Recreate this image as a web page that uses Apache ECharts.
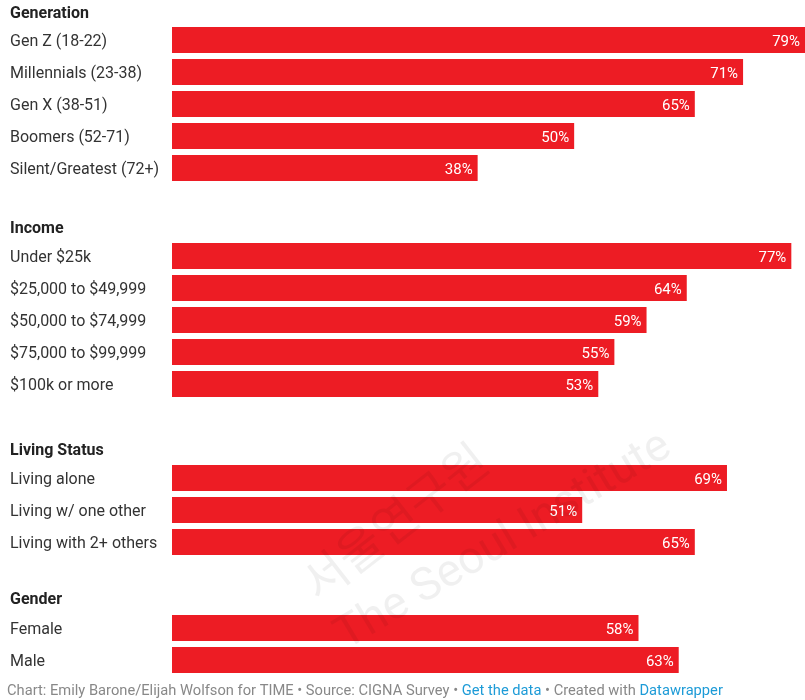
<!DOCTYPE html>
<html>
<head>
<meta charset="utf-8">
<script src="https://cdn.jsdelivr.net/npm/echarts@6/dist/echarts.min.js"></script>
<style>
html,body{margin:0;padding:0;background:#fff;}
#main{width:805px;height:700px;}
</style>
</head>
<body>
<div id="main"></div>
<script>
const groupTitles = ['Generation', 'Income', 'Living Status', 'Gender'];
const generationCats = ['Gen Z (18-22)', 'Millennials (23-38)', 'Gen X (38-51)', 'Boomers (52-71)', 'Silent/Greatest (72+)'];
const generationVals = [79, 71, 65, 50, 38];
const incomeCats = ['Under $25k', '$25,000 to $49,999', '$50,000 to $74,999', '$75,000 to $99,999', '$100k or more'];
const incomeVals = [77, 64, 59, 55, 53];
const livingCats = ['Living alone', 'Living w/ one other', 'Living with 2+ others'];
const livingVals = [69, 51, 65];
const genderCats = ['Female', 'Male'];
const genderVals = [58, 63];
const footerText = 'Chart: Emily Barone/Elijah Wolfson for TIME • Source: CIGNA Survey • ';

const groups = [
  {cats: generationCats, vals: generationVals, top: 24},
  {cats: incomeCats, vals: incomeVals, top: 240},
  {cats: livingCats, vals: livingVals, top: 462},
  {cats: genderCats, vals: genderVals, top: 612}
];
const headerY = [12, 227, 449, 598];
const ROW = 32;
const FONT = 'Roboto, "Noto Sans", sans-serif';

const chart = echarts.init(document.getElementById('main'), null, {renderer: 'canvas'});

const grids = [], xAxes = [], yAxes = [], series = [];
groups.forEach((g, i) => {
  grids.push({left: 172, right: 0, top: g.top, height: g.cats.length * ROW, containLabel: false});
  xAxes.push({type: 'value', gridIndex: i, min: 0, max: 78.7, show: false});
  yAxes.push({
    type: 'category', gridIndex: i, data: g.cats, inverse: true,
    axisLine: {show: false}, axisTick: {show: false}, splitLine: {show: false},
    axisLabel: {
      align: 'left', margin: 162, color: '#333', fontSize: 16, fontFamily: FONT,
      formatter: v => '{a|' + v + '}',
      rich: {a: {fontSize: 16, fontFamily: FONT, color: '#333', lineHeight: 20, padding: [4, 0, 0, 0]}}
    }
  });
  series.push({
    type: 'bar', xAxisIndex: i, yAxisIndex: i, data: g.vals, barWidth: 26,
    itemStyle: {color: '#ed1c24'},
    label: {show: true, position: 'insideRight', distance: 5, color: '#fff', fontSize: 15, fontFamily: FONT,
      offset: [0, 2], formatter: p => p.value + '%'},
    silent: true, animation: false
  });
});

const graphics = groupTitles.map((t, i) => ({
  type: 'text', left: 10, top: headerY[i] - 6,
  style: {text: t, font: 'bold 16px ' + FONT, fill: '#222'}
}));
graphics.push({
  type: 'text', left: 7, top: 684,
  style: {
    text: '{a|' + footerText + '}{b|Get the data}{a| • Created with }{b|Datawrapper}',
    rich: {
      a: {fontSize: 14.7, fontFamily: FONT, fill: '#888', color: '#888'},
      b: {fontSize: 14.7, fontFamily: FONT, fill: '#1d9bd7', color: '#1d9bd7'}
    }
  }
});
// watermark
graphics.push({
  type: 'text', x: 322, y: 608, rotation: Math.PI * 38 / 180, z: 100,
  style: {text: '서울연구원', font: '48px "Noto Sans CJK KR", sans-serif', fill: 'rgba(0,0,0,0.06)', textAlign: 'left', textVerticalAlign: 'bottom'}
});
graphics.push({
  type: 'text', x: 352, y: 660, rotation: Math.PI * 31 / 180, z: 100,
  style: {text: 'The Seoul Institute', font: '46px ' + FONT, fill: 'rgba(0,0,0,0.06)', textAlign: 'left', textVerticalAlign: 'bottom'}
});

chart.setOption({
  animation: false,
  grid: grids, xAxis: xAxes, yAxis: yAxes, series: series,
  graphic: graphics
});
</script>
</body>
</html>
